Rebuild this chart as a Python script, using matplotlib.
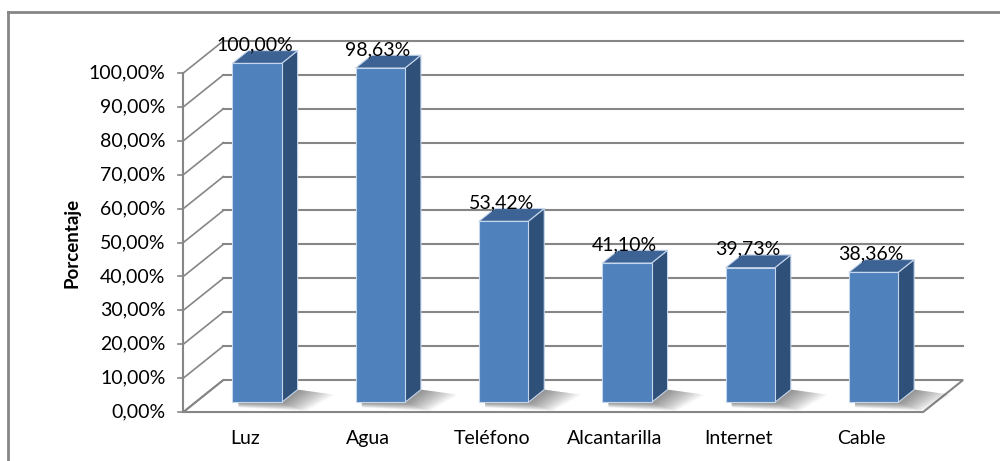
import matplotlib.pyplot as plt
from matplotlib.patches import Polygon

categorias = ['Luz', 'Agua', 'Teléfono', 'Alcantarilla', 'Internet', 'Cable']
valores = [100.00, 98.63, 53.42, 41.10, 39.73, 38.36]
ticks = [0, 10, 20, 30, 40, 50, 60, 70, 80, 90, 100]

plt.rcParams['font.family'] = ['Lato', 'DejaVu Sans']

# profundidad del efecto 3D (en unidades de categoria y de %)
dx, dy = 0.324, 9.44
x0, x1 = -0.5, len(categorias) - 0.5
ancho = 0.4
p0, p1 = 0.3, 0.7
gris = '#868686'

fig = plt.figure(figsize=(10, 4.61), dpi=100, facecolor='white')
ax = fig.add_axes([0, 0, 1, 1])
ax.set_xlim(-1.987, 6.123)
ax.set_ylim(-14.45, 121.53)
ax.axis('off')

# suelo
suelo = Polygon([(x0, 0), (x1, 0), (x1 + dx, dy), (x0 + dx, dy)],
                closed=True, facecolor='white', edgecolor=gris, lw=1.5, zorder=1)
ax.add_patch(suelo)

# rejilla de la pared del fondo y pared izquierda
for t in ticks:
    if t > 0:
        ax.plot([x0 + dx, x1 + dx], [t + dy, t + dy], color=gris, lw=1.5, zorder=1)
    ax.plot([x0, x0 + dx], [t, t + dy], color=gris, lw=1.2, zorder=1)
    ax.plot([x0 - 0.04, x0], [t, t], color=gris, lw=1.2, zorder=1)
    ax.text(x0 - 0.145, t, ('%.2f%%' % t).replace('.', ','), ha='right', va='center',
            fontsize=14, color='black')
ax.plot([x0, x0], [0, 100], color=gris, lw=1.5, zorder=1)

# barras
for i, v in enumerate(valores):
    xa = i - ancho / 2 + p0 * dx
    xb = i + ancho / 2 + p0 * dx
    yb = p0 * dy
    ddx = (p1 - p0) * dx
    ddy = (p1 - p0) * dy
    # sombra difusa
    n = 14
    for k in range(n):
        s = 1 - k / n
        sombra = Polygon([(xa + 0.05, yb), (xb + ddx, yb + ddy),
                          (xb + ddx + 0.30 * s, yb + ddy - 1.5 * s),
                          (xb + 0.20 * s, yb - 2.5 * s), (xa + 0.05, yb - 1.5 * s)],
                         closed=True, facecolor='black', alpha=0.035, lw=0, zorder=2)
        ax.add_patch(sombra)
    frente = Polygon([(xa, yb), (xb, yb), (xb, yb + v), (xa, yb + v)],
                     closed=True, facecolor='#4F81BD', edgecolor='#C6D6EC', lw=0.8, zorder=4)
    lado = Polygon([(xb, yb), (xb + ddx, yb + ddy), (xb + ddx, yb + ddy + v), (xb, yb + v)],
                   closed=True, facecolor='#2F5079', edgecolor='#C6D6EC', lw=0.8, zorder=3)
    tapa = Polygon([(xa, yb + v), (xb, yb + v), (xb + ddx, yb + ddy + v), (xa + ddx, yb + ddy + v)],
                   closed=True, facecolor='#3C6394', edgecolor='#C6D6EC', lw=0.8, zorder=3)
    ax.add_patch(lado)
    ax.add_patch(tapa)
    ax.add_patch(frente)
    ax.text(i + p0 * dx - 0.02, v + p1 * dy - 0.8, ('%.2f%%' % v).replace('.', ','),
            ha='center', va='bottom', fontsize=14, color='black', zorder=5)
    ax.text(i, -7.9, categorias[i], ha='center', va='center', fontsize=14, color='black')

ax.text(-1.403, 50, 'Porcentaje', rotation=90, ha='center', va='center',
        fontsize=13.5, fontweight='bold')

# marco del grafico
fig.add_artist(plt.Line2D([0.008, 0.008], [0, 0.974], color=gris, lw=2))
fig.add_artist(plt.Line2D([0.008, 1], [0.974, 0.974], color=gris, lw=2))

plt.savefig('out.png', dpi=100)
